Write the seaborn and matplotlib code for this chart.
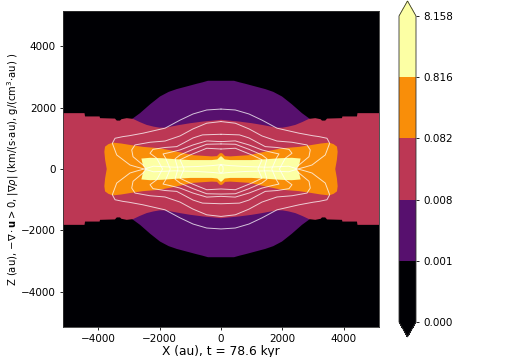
import numpy as np
import matplotlib
matplotlib.use('Agg')
from matplotlib import pyplot as plt
from matplotlib.colors import BoundaryNorm, ListedColormap
from matplotlib.cm import ScalarMappable
import seaborn as sns

# colour bands and colorbar labels
LEVELS = [8.158e-5, 8.158e-4, 8.158e-3, 8.158e-2, 8.158e-1, 8.158]
COLORS = ['#000004', '#57106e', '#bc3754', '#f98e09', '#fcffa4']

# region outlines (x >= 0, z >= 0 quarter, the rest is mirrored)
PURPLE_X = [0, 423, 600, 790, 1100, 1440, 1700, 1984, 2300, 2634, 2904, 2904]
PURPLE_Z = [2870, 2870, 2820, 2773, 2690, 2600, 2510, 2360, 2110, 1817, 1620, 0]
RED_X = [0, 590, 1000, 1333, 1821, 2000, 2200, 2420, 2650, 2860, 3067, 3240, 3285, 3390, 3450, 3935, 3950, 4423, 4440, 5300, 5300]
RED_Z = [1600, 1543, 1490, 1435, 1345, 1345, 1380, 1435, 1530, 1630, 1654, 1620, 1575, 1575, 1640, 1654, 1710, 1710, 1817, 1817, 0]
ORANGE_X = [0, 40, 130, 300, 910, 1440, 1984, 2537, 2960, 3250, 3512, 3660, 3772, 3795, 3770, 3717]
ORANGE_Z = [520, 510, 420, 410, 450, 565, 675, 720, 783, 830, 858, 810, 728, 560, 300, 0]
YELLOW_X = [0, 50, 120, 300, 1000, 1500, 1900, 2300, 2590, 2540, 2440]
YELLOW_Z = [420, 380, 310, 290, 290, 320, 350, 365, 340, 120, 0]

# white contour lines
LINES_X = [
    [0, 465, 910, 1333, 1821, 2537, 3000, 3187, 3447, 3535, 3392, 2960, 2741, 2500],
    [0, 465, 910, 1333, 1821, 2309, 2797, 2904, 2862, 2537, 2440],
    [0, 600, 910, 1440, 1821, 2211, 2309, 2091, 1900],
    [0, 465, 910, 1333, 1700, 1886, 1800, 1650],
    [0, 465, 910, 1333, 1496, 1400],
    [0, 465, 1008, 1333, 1200],
    [0, 300, 800, 1500, 2200, 2500],
    [0, 60, 70],
]
LINES_Z = [
    [1950, 1920, 1790, 1590, 1328, 1165, 1080, 1054, 1000, 838, 457, 130, 65, 0],
    [1543, 1490, 1305, 1076, 910, 870, 783, 620, 400, 130, 0],
    [1130, 1110, 1010, 728, 700, 640, 512, 350, 0],
    [890, 914, 783, 620, 530, 490, 350, 0],
    [815, 805, 640, 457, 330, 0],
    [650, 675, 455, 300, 0],
    [140, 110, 80, 60, 90, 0],
    [130, 90, 0],
]


def mirror(x, z):
    x = np.array(x)
    z = np.array(z)
    xs = np.concatenate([x, x[::-1], -x, -x[::-1]])
    zs = np.concatenate([z, -z[::-1], -z, z[::-1]])
    return xs, zs


sns.set_style('ticks', {'text.color': 'black', 'axes.labelcolor': 'black', 'xtick.color': 'black',
                        'ytick.color': 'black', 'axes.edgecolor': '#333333'})
plt.rcParams['font.family'] = ['DejaVu Sans']
plt.rcParams['mathtext.fontset'] = 'dejavusans'

fig = plt.figure(figsize=(5.09, 3.57), dpi=100)
ax = fig.add_axes([63 / 509, 30 / 357, 316 / 509, 316 / 357])
ax.set_facecolor(COLORS[0])

outlines = [(PURPLE_X, PURPLE_Z), (RED_X, RED_Z), (ORANGE_X, ORANGE_Z), (YELLOW_X, YELLOW_Z)]
for (ox, oz), color in zip(outlines, COLORS[1:]):
    xs, zs = mirror(ox, oz)
    ax.fill(xs, zs, color=color, lw=0)

for lx, lz in zip(LINES_X, LINES_Z):
    xs, zs = mirror(lx, lz)
    sns.lineplot(x=xs, y=zs, sort=False, estimator=None, color='white', alpha=0.75, lw=0.7, ax=ax, legend=False)

ax.set_xlim(-5140, 5140)
ax.set_ylim(-5140, 5140)
ax.set_xticks([-4000, -2000, 0, 2000, 4000])
ax.set_yticks([-4000, -2000, 0, 2000, 4000])
ax.tick_params(labelsize=7.5, length=2.5, width=0.6, pad=2.5)
for s in ax.spines.values():
    s.set_linewidth(0.6)
ax.set_xlabel('X (au), t = 78.6 kyr', fontsize=8.8, labelpad=0.5)
ax.set_ylabel(r'Z (au), $-\nabla\cdot\mathbf{u}>0$, $|\nabla\rho|$ (km/(s$\cdot$au), g/(cm$^3$$\cdot$au) )',
              fontsize=7.2, labelpad=0)

# colorbar with extension tips
cmap = ListedColormap(COLORS)
cmap.set_under(COLORS[0])
cmap.set_over(COLORS[-1])
norm = BoundaryNorm(LEVELS, len(COLORS))
cax = fig.add_axes([399 / 509, 20 / 357, 17 / 509, 336 / 357])
cb = fig.colorbar(ScalarMappable(norm=norm, cmap=cmap), cax=cax, extend='both', extendfrac=0.049,
                  spacing='uniform', ticks=LEVELS, format='%.3f')
cb.ax.tick_params(labelsize=7.5, length=2.5, width=0.6, pad=2.5)
cb.outline.set_linewidth(0.6)
cb.outline.set_edgecolor('#333333')

fig.savefig('out.png', dpi=100)
